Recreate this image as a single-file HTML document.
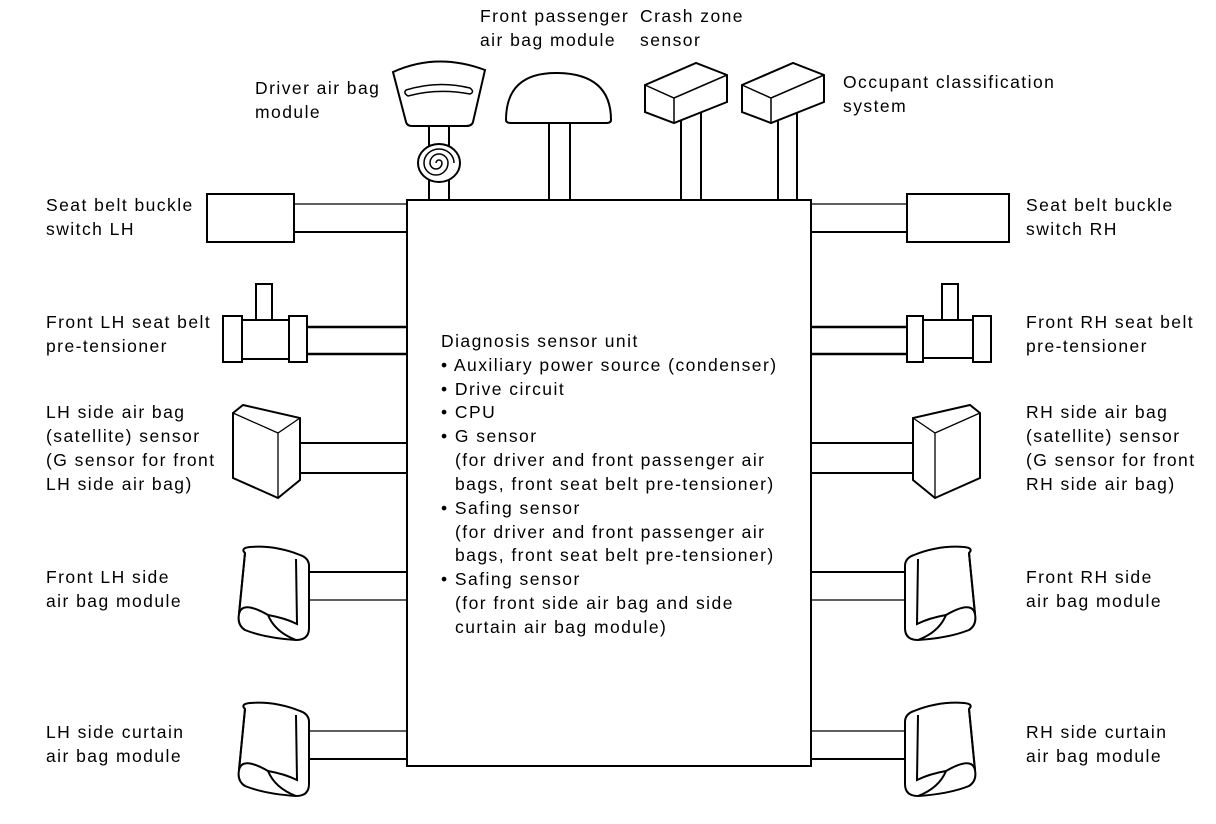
<!DOCTYPE html>
<html><head><meta charset="utf-8"><style>
body{margin:0;background:#fff}
svg{display:block}
text{font-family:"Liberation Sans",Arial,sans-serif;font-size:17.5px;letter-spacing:1.45px;fill:#000}
</style></head><body>
<svg width="1216" height="824" viewBox="0 0 1216 824" xmlns="http://www.w3.org/2000/svg" fill="none" stroke="#000" stroke-width="2">
<defs>
<g id="mod">
<path d="M245,553 Q240,548 250,547 Q275,545 300,555 Q309,558 309,566 L309,628 Q309,640 296,640 Q265,638 245,630 Q237,625 239,614 Z" fill="#fff"/>
<path d="M245,553 L239,614"/>
<path d="M296,559 L297,624 Q285,618 268,615"/>
<path d="M239,614 Q242,600 268,615 Q275,632 296,640"/>
</g>
<g id="sens">
<path d="M233,413 L243,405 L300,418 L300,480 L278,498 L233,478 Z" fill="#fff"/>
<path d="M233,413 L278,433 L300,418 M278,433 L278,498" stroke-width="1.3"/>
</g>
<g id="box3">
<path d="M645,85 L696,63 L727,75 L727,102 L674,123 L645,112 Z" fill="#fff"/>
<path d="M645,85 L674,98 L727,75 M674,98 L674,123" stroke-width="1.5"/>
</g>
</defs>

<rect x="407" y="200" width="404" height="566" fill="#fff"/>

<path d="M429,125 V200 M449,125 V200 M549,122 V200 M570,122 V200 M681,118 V200 M701,110 V200 M778,118 V200 M797,110 V200"/>
<path d="M393,72 Q437,52 485,70 L473,122 Q472,126 466,126 L412,126 Q407,126 406,122 Z" fill="#fff"/>
<path d="M406,90 Q438,80 470,88 Q475,92 470,94 Q438,88 408,96 Q403,93 406,90 Z" stroke-width="1.5"/>
<ellipse cx="439" cy="163" rx="21" ry="19" fill="#fff"/>
<path d="M439,163 m-3,0 a3,3 0 1 1 6,0 a6,6 0 1 1 -12,0 a9,9 0 1 1 18,0 a12,12 0 1 1 -24,0 a15,14 0 1 1 30,0" stroke-width="1.5"/>
<path d="M506,120 Q506,72 558,73 Q611,74 611,120 Q611,123 606,123 L511,123 Q506,123 506,120 Z" fill="#fff"/>
<use href="#box3"/>
<use href="#box3" transform="translate(97,0)"/>

<path d="M294,204 H407" stroke-width="1.3"/><path d="M294,232 H407"/>
<path d="M307,327 H407 M307,354 H407" stroke-width="2.5"/>
<path d="M300,443 H407 M300,473 H407"/>
<path d="M309,572 H407"/><path d="M309,600 H407" stroke-width="1.3"/>
<path d="M309,731 H407" stroke-width="1.3"/><path d="M309,759 H407"/>
<rect x="207" y="194" width="87" height="48" fill="#fff"/>
<rect x="256" y="284" width="16" height="36" fill="#fff"/>
<rect x="240" y="320" width="50" height="39" fill="#fff"/>
<rect x="223" y="316" width="19" height="46" fill="#fff"/>
<rect x="289" y="316" width="18" height="46" fill="#fff"/>
<use href="#sens"/>
<use href="#mod"/>
<use href="#mod" transform="translate(0,156)"/>

<path d="M811,204 H907" stroke-width="1.3"/><path d="M811,232 H907"/>
<path d="M811,327 H907 M811,354 H907" stroke-width="2.5"/>
<path d="M811,443 H918 M811,473 H918"/>
<path d="M811,572 H908"/><path d="M811,600 H908" stroke-width="1.3"/>
<path d="M811,731 H908" stroke-width="1.3"/><path d="M811,759 H908"/>
<rect x="907" y="194" width="102" height="48" fill="#fff"/>
<rect x="942" y="284" width="16" height="36" fill="#fff"/>
<rect x="922" y="320" width="52" height="38" fill="#fff"/>
<rect x="907" y="316" width="16" height="46" fill="#fff"/>
<rect x="973" y="316" width="18" height="46" fill="#fff"/>
<g transform="translate(1216,0) scale(-1,1)"><use href="#sens" transform="translate(3,0)"/><use href="#mod" transform="translate(2,0)"/><use href="#mod" transform="translate(2,156)"/></g>

<g stroke="none">
<text x="480" y="22">Front passenger</text><text x="480" y="46">air bag module</text>
<text x="640" y="22">Crash zone</text><text x="640" y="46">sensor</text>
<text x="843" y="88">Occupant classification</text><text x="843" y="112">system</text>
<text x="255" y="94">Driver air bag</text><text x="255" y="118">module</text>
<text x="46" y="211">Seat belt buckle</text><text x="46" y="235">switch LH</text>
<text x="46" y="328">Front LH seat belt</text><text x="46" y="352">pre-tensioner</text>
<text x="46" y="418">LH side air bag</text><text x="46" y="442">(satellite) sensor</text><text x="46" y="466">(G sensor for front</text><text x="46" y="490">LH side air bag)</text>
<text x="46" y="583">Front LH side</text><text x="46" y="607">air bag module</text>
<text x="46" y="738">LH side curtain</text><text x="46" y="762">air bag module</text>
<text x="1026" y="211">Seat belt buckle</text><text x="1026" y="235">switch RH</text>
<text x="1026" y="328">Front RH seat belt</text><text x="1026" y="352">pre-tensioner</text>
<text x="1026" y="418">RH side air bag</text><text x="1026" y="442">(satellite) sensor</text><text x="1026" y="466">(G sensor for front</text><text x="1026" y="490">RH side air bag)</text>
<text x="1026" y="583">Front RH side</text><text x="1026" y="607">air bag module</text>
<text x="1026" y="738">RH side curtain</text><text x="1026" y="762">air bag module</text>
<text x="441" y="347">Diagnosis sensor unit</text>
<text x="441" y="371">• Auxiliary power source (condenser)</text>
<text x="441" y="395">• Drive circuit</text>
<text x="441" y="418">• CPU</text>
<text x="441" y="442">• G sensor</text>
<text x="455" y="466">(for driver and front passenger air</text>
<text x="455" y="490">bags, front seat belt pre-tensioner)</text>
<text x="441" y="514">• Safing sensor</text>
<text x="455" y="538">(for driver and front passenger air</text>
<text x="455" y="561">bags, front seat belt pre-tensioner)</text>
<text x="441" y="585">• Safing sensor</text>
<text x="455" y="609">(for front side air bag and side</text>
<text x="455" y="633">curtain air bag module)</text>
</g>
</svg>
</body></html>
